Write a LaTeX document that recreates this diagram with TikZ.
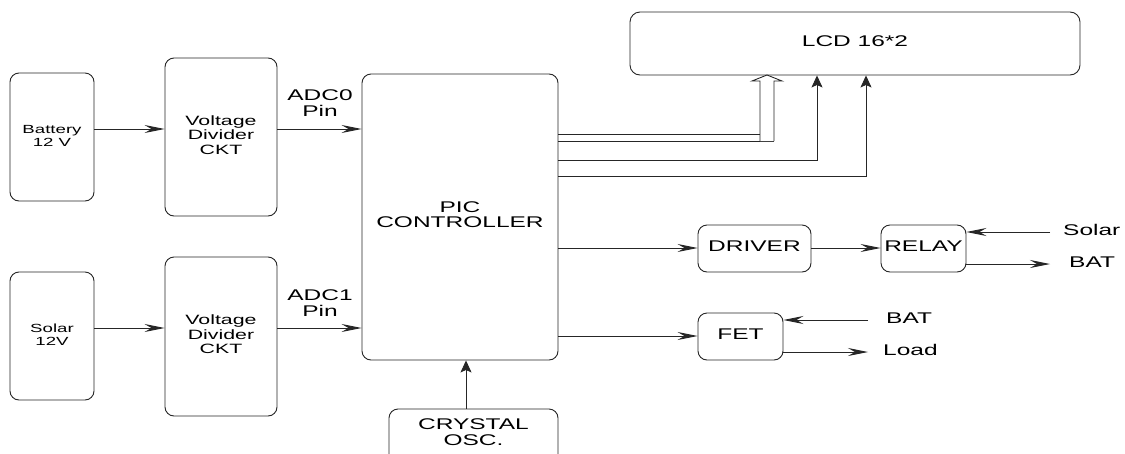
\documentclass[tikz,border=0pt]{standalone}
\usepackage{fontspec}
\setmainfont{Liberation Sans}
\usetikzlibrary{arrows.meta}
\newcommand{\sx}[3]{\scalebox{1.58}[1]{\fontsize{#1}{#2}\selectfont\begin{tabular}{@{}c@{}}#3\end{tabular}}}
\tikzset{
  box/.style={draw=black!85, line width=0.9pt, rounded corners=9pt, inner sep=0pt},
  lbl/.style={inner sep=0pt},
  ln/.style={draw=black!85, line width=0.9pt},
  arr/.style={ln, -{Stealth[length=20pt,width=8pt,inset=7pt]}},
  varr/.style={ln, -{Stealth[length=12pt,width=11pt,inset=2.5pt]}}
}
\begin{document}
\begin{tikzpicture}[x=1pt,y=-1pt]
\useasboundingbox (0,0) rectangle (1125,453);
\fill[white] (0,0) rectangle (1125,453);
\clip (0,0) rectangle (1125,453);
% blocks
\node[box, minimum width=84pt, minimum height=128pt] (bat) at (52,137) {\sx{11.8}{13}{Battery\\12 V}};
\node[box, minimum width=112pt, minimum height=158pt] (vd1) at (221,137) {\sx{13.5}{14.5}{Voltage\\Divider\\CKT}};
\node[box, minimum width=84pt, minimum height=128pt] (sol) at (52,336) {\sx{11.8}{13}{Solar\\12V}};
\node[box, minimum width=112pt, minimum height=159pt] (vd2) at (221,336.5) {\sx{13.5}{14.5}{Voltage\\Divider\\CKT}};
\node[box, minimum width=196pt, minimum height=286pt] (pic) at (460,217) {\sx{15.5}{15}{PIC\\CONTROLLER}};
\node[box, minimum width=169pt, minimum height=60pt, text height=18.9pt, text depth=21.1pt] (xtal) at (473.5,439) {\sx{15.5}{15}{CRYSTAL\\OSC.}};
\node[box, rounded corners=10pt, minimum width=450pt, minimum height=63pt] (lcd) at (855,43.5) {\sx{15.5}{16}{LCD 16*2}};
\node[box, minimum width=113pt, minimum height=47pt] (drv) at (754.5,248.5) {\sx{15.5}{16}{DRIVER}};
\node[box, minimum width=85pt, minimum height=47pt] (rly) at (923.5,248.5) {\sx{15.5}{16}{RELAY}};
\node[box, minimum width=85pt, minimum height=47pt] (fet) at (740.5,336.5) {\sx{15.5}{16}{FET}};
% labels
\node[lbl] (adc0) at (320,105) {\sx{15.5}{16}{ADC0\\Pin}};
\node[lbl] (adc1) at (320,305) {\sx{15.5}{16}{ADC1\\Pin}};
\node[lbl, anchor=west] (tsol) at (1063,232) {\sx{15.5}{16}{Solar}};
\node[lbl, anchor=west] (tbat1) at (1069,264) {\sx{15.5}{16}{BAT}};
\node[lbl, anchor=west] (tbat2) at (886,320) {\sx{15.5}{16}{BAT}};
\node[lbl, anchor=west] (tload) at (883,352) {\sx{15.5}{16}{Load}};
% helper coordinates
\coordinate (y1) at (0,129);
\coordinate (y2) at (0,328);
\coordinate (y3) at (0,248);
\coordinate (y4) at (0,336);
\coordinate (sIn) at (1050,232);
\coordinate (bOut) at (1050,264);
\coordinate (fIn) at (868,320);
\coordinate (lOut) at (868,352);
\coordinate (c1) at (817,160);
\coordinate (c2) at (866,176);
\coordinate (b1) at (774,134);
\coordinate (b2) at (774,141);
\coordinate (cx) at (466,0);
% connectors
\draw[arr] (bat.east |- y1) -- (vd1.west |- y1);
\draw[arr] (vd1.east |- y1) -- (pic.west |- y1);
\draw[arr] (sol.east |- y2) -- (vd2.west |- y2);
\draw[arr] (vd2.east |- y2) -- (pic.west |- y2);
\draw[arr] (pic.east |- y3) -- (drv.west |- y3);
\draw[arr] (drv.east |- y3) -- (rly.west |- y3);
\draw[arr] (pic.east |- y4) -- (fet.west |- y4);
\draw[arr] (sIn) -- (rly.east |- sIn);
\draw[arr] (rly.east |- bOut) -- (bOut);
\draw[arr] (fIn) -- (fet.east |- fIn);
\draw[arr] (fet.east |- lOut) -- (lOut);
\draw[varr] (xtal.north -| cx) -- (pic.south -| cx);
\draw[varr] (pic.east |- c1) -- (c1) -- (lcd.south -| c1);
\draw[varr] (pic.east |- c2) -- (c2) -- (lcd.south -| c2);
\draw[ln] (pic.east |- b1) -- (b1);
\draw[ln] (pic.east |- b2) -- (b2);
\draw[ln, fill=white, line join=miter] (760,141) -- (760,81) -- (752,81) -- (767,75) -- (782,81) -- (774,81) -- (774,141);
\end{tikzpicture}
\end{document}
